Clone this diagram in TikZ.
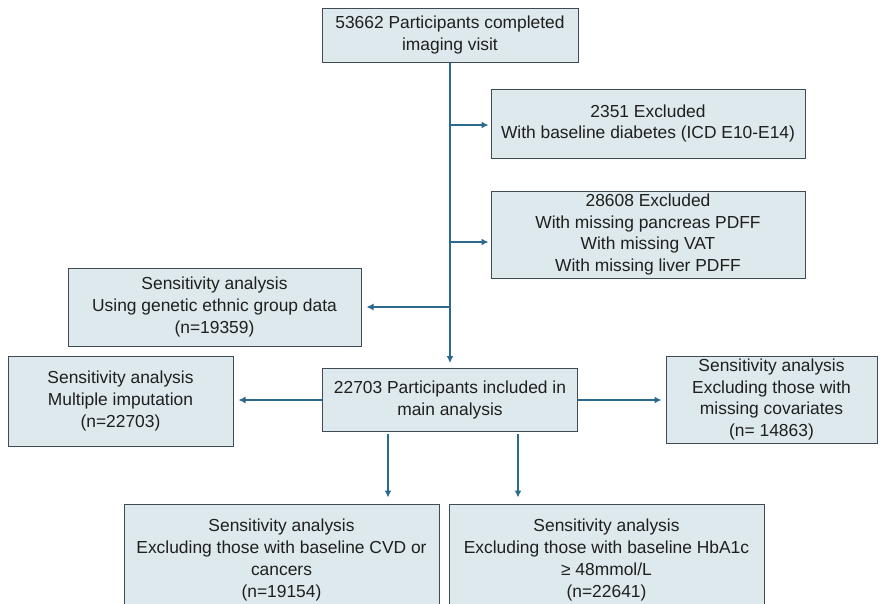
\documentclass[tikz,border=0pt]{standalone}
\usepackage{fontspec}
\setmainfont{Liberation Sans}
\usetikzlibrary{arrows.meta}
\definecolor{boxfill}{HTML}{DDE9EC}
\definecolor{boxline}{HTML}{3F4A54}
\definecolor{flow}{HTML}{2B6A8E}

\begin{document}
\begin{tikzpicture}[x=1pt, y=-1pt,
  box/.style={draw=boxline, line width=1pt, fill=boxfill, align=center,
    inner sep=0pt, font=\fontsize{17.4}{21.8}\selectfont, text=black!88},
  flowarrow/.style={draw=flow, line width=1.6pt,
    -{Latex[length=7pt,width=7pt]}, shorten >=5pt}]

  \clip (0,0) rectangle (881,603);

  % main stream
  \node[box, minimum width=256pt, minimum height=54pt] (start) at (450,35)
    {53662 Participants completed\\imaging visit};
  \node[box, minimum width=314pt, minimum height=69pt] (excla) at (648,123.5)
    {2351 Excluded\\With baseline diabetes (ICD E10-E14)};
  \node[box, minimum width=314pt, minimum height=87pt] (exclb) at (648,234.5)
    {28608 Excluded\\With missing pancreas PDFF\\With missing VAT\\With missing liver PDFF};
  \node[box, minimum width=293pt, minimum height=78pt] (genetic) at (214.5,307)
    {Sensitivity analysis\\Using genetic ethnic group data\\(n=19359)};
  \node[box, minimum width=255pt, minimum height=63pt] (main) at (450,400)
    {22703 Participants included in\\main analysis};

  % sensitivity analyses
  \node[box, minimum width=225pt, minimum height=90pt] (imput) at (120.5,401)
    {Sensitivity analysis\\Multiple imputation\\(n=22703)};
  \node[box, minimum width=211pt, minimum height=87pt] (covar) at (771.5,399.5)
    {Sensitivity analysis\\Excluding those with\\missing covariates\\(n= 14863)};
  \node[box, minimum width=315pt, minimum height=112pt] (cvd) at (281.5,560)
    {Sensitivity analysis\\Excluding those with baseline CVD or\\cancers\\(n=19154)};
  \node[box, minimum width=315pt, minimum height=112pt] (hba) at (606.5,560)
    {Sensitivity analysis\\Excluding those with baseline HbA1c\\≥ 48mmol/L\\(n=22641)};

  \coordinate (ja) at (450,125);
  \coordinate (jb) at (450,242);
  \coordinate (jg) at (450,307);
  \coordinate (cvdtop) at (388,431);
  \coordinate (hbatop) at (518,431);

  \draw[flowarrow] (start) -- (main); % trunk
  \draw[flowarrow, shorten >=2pt] (ja) -- (ja -| excla.west);
  \draw[flowarrow, shorten >=2pt] (jb) -- (jb -| exclb.west);
  \draw[flowarrow] (jg) -- (jg -| genetic.east);

  \draw[flowarrow] (main.west) -- (main.west -| imput.east);
  \draw[flowarrow, shorten >=4pt] (main.east) -- (main.east -| covar.west);
  \draw[flowarrow, shorten <=3pt, shorten >=6pt] (cvdtop) -- (cvdtop |- cvd.north);
  \draw[flowarrow, shorten <=3pt, shorten >=6pt] (hbatop) -- (hbatop |- hba.north);

\end{tikzpicture}
\end{document}
